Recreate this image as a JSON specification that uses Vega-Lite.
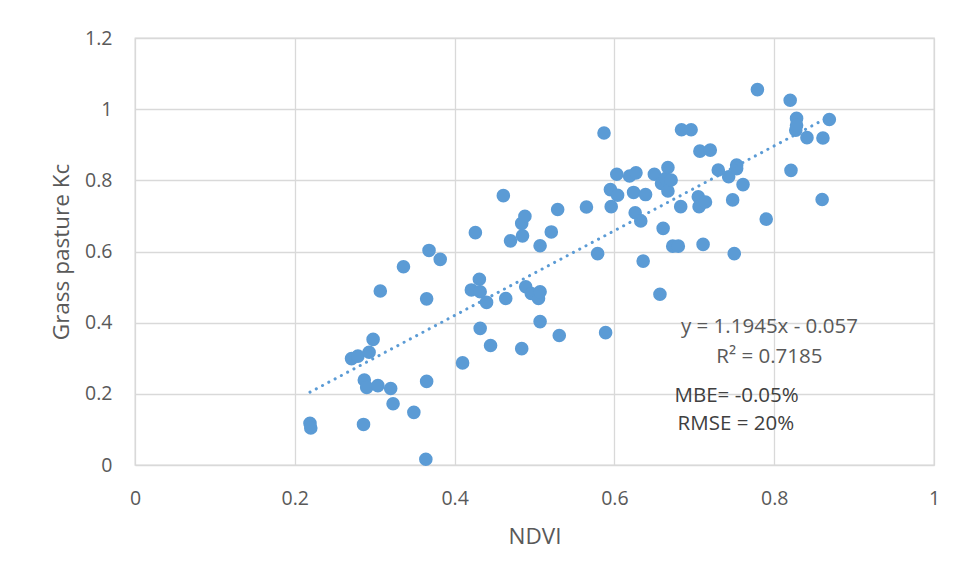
{
  "$schema": "https://vega.github.io/schema/vega-lite/v6.json",
  "width": 799,
  "height": 427,
  "autosize": {"type": "none"},
  "padding": {"left": 135, "top": 38, "right": 22, "bottom": 112},
  "background": "white",
  "config": {
    "font": "Open Sans",
    "view": {"stroke": "#D9D9D9", "strokeWidth": 1.3},
    "axis": {
      "grid": true,
      "gridColor": "#D9D9D9",
      "gridWidth": 1.3,
      "domain": false,
      "ticks": false,
      "labelColor": "#595959",
      "labelFont": "Open Sans",
      "labelFontSize": 19.5,
      "labelFlush": false,
      "titleColor": "#595959",
      "titleFont": "Open Sans",
      "titleFontSize": 22.5,
      "titleFontWeight": "normal"
    }
  },
  "data": {
    "values": [
      {"ndvi": 0.219, "kc": 0.117}, {"ndvi": 0.220, "kc": 0.104}, {"ndvi": 0.286, "kc": 0.114},
      {"ndvi": 0.364, "kc": 0.016}, {"ndvi": 0.349, "kc": 0.148}, {"ndvi": 0.323, "kc": 0.172},
      {"ndvi": 0.287, "kc": 0.239}, {"ndvi": 0.290, "kc": 0.218}, {"ndvi": 0.304, "kc": 0.223},
      {"ndvi": 0.320, "kc": 0.215}, {"ndvi": 0.365, "kc": 0.235}, {"ndvi": 0.271, "kc": 0.299},
      {"ndvi": 0.279, "kc": 0.306}, {"ndvi": 0.293, "kc": 0.317}, {"ndvi": 0.298, "kc": 0.353},
      {"ndvi": 0.307, "kc": 0.489}, {"ndvi": 0.336, "kc": 0.557}, {"ndvi": 0.365, "kc": 0.467},
      {"ndvi": 0.368, "kc": 0.603}, {"ndvi": 0.382, "kc": 0.578}, {"ndvi": 0.410, "kc": 0.287},
      {"ndvi": 0.421, "kc": 0.492}, {"ndvi": 0.431, "kc": 0.522}, {"ndvi": 0.432, "kc": 0.487},
      {"ndvi": 0.432, "kc": 0.384}, {"ndvi": 0.426, "kc": 0.653}, {"ndvi": 0.440, "kc": 0.457},
      {"ndvi": 0.445, "kc": 0.336}, {"ndvi": 0.461, "kc": 0.757}, {"ndvi": 0.464, "kc": 0.468},
      {"ndvi": 0.470, "kc": 0.630}, {"ndvi": 0.484, "kc": 0.327}, {"ndvi": 0.484, "kc": 0.679},
      {"ndvi": 0.485, "kc": 0.644}, {"ndvi": 0.488, "kc": 0.699}, {"ndvi": 0.489, "kc": 0.501},
      {"ndvi": 0.496, "kc": 0.482}, {"ndvi": 0.505, "kc": 0.468}, {"ndvi": 0.507, "kc": 0.487},
      {"ndvi": 0.507, "kc": 0.403}, {"ndvi": 0.507, "kc": 0.616}, {"ndvi": 0.521, "kc": 0.655},
      {"ndvi": 0.529, "kc": 0.718}, {"ndvi": 0.531, "kc": 0.364}, {"ndvi": 0.565, "kc": 0.725},
      {"ndvi": 0.579, "kc": 0.594}, {"ndvi": 0.587, "kc": 0.933}, {"ndvi": 0.589, "kc": 0.372},
      {"ndvi": 0.595, "kc": 0.774}, {"ndvi": 0.596, "kc": 0.726}, {"ndvi": 0.603, "kc": 0.817},
      {"ndvi": 0.604, "kc": 0.758}, {"ndvi": 0.619, "kc": 0.812}, {"ndvi": 0.624, "kc": 0.766},
      {"ndvi": 0.626, "kc": 0.709}, {"ndvi": 0.627, "kc": 0.821}, {"ndvi": 0.633, "kc": 0.686},
      {"ndvi": 0.636, "kc": 0.573}, {"ndvi": 0.639, "kc": 0.760}, {"ndvi": 0.650, "kc": 0.817},
      {"ndvi": 0.657, "kc": 0.480}, {"ndvi": 0.659, "kc": 0.791}, {"ndvi": 0.661, "kc": 0.665},
      {"ndvi": 0.664, "kc": 0.805}, {"ndvi": 0.667, "kc": 0.836}, {"ndvi": 0.667, "kc": 0.770},
      {"ndvi": 0.671, "kc": 0.801}, {"ndvi": 0.673, "kc": 0.615}, {"ndvi": 0.680, "kc": 0.615},
      {"ndvi": 0.683, "kc": 0.726}, {"ndvi": 0.684, "kc": 0.942}, {"ndvi": 0.696, "kc": 0.942},
      {"ndvi": 0.705, "kc": 0.754}, {"ndvi": 0.706, "kc": 0.726}, {"ndvi": 0.707, "kc": 0.882},
      {"ndvi": 0.711, "kc": 0.620}, {"ndvi": 0.714, "kc": 0.739}, {"ndvi": 0.720, "kc": 0.885},
      {"ndvi": 0.730, "kc": 0.829}, {"ndvi": 0.743, "kc": 0.810}, {"ndvi": 0.748, "kc": 0.745},
      {"ndvi": 0.750, "kc": 0.594}, {"ndvi": 0.753, "kc": 0.843}, {"ndvi": 0.753, "kc": 0.833},
      {"ndvi": 0.761, "kc": 0.788}, {"ndvi": 0.779, "kc": 1.055}, {"ndvi": 0.790, "kc": 0.691},
      {"ndvi": 0.820, "kc": 1.025}, {"ndvi": 0.821, "kc": 0.828}, {"ndvi": 0.827, "kc": 0.941},
      {"ndvi": 0.828, "kc": 0.974}, {"ndvi": 0.828, "kc": 0.955}, {"ndvi": 0.841, "kc": 0.920},
      {"ndvi": 0.860, "kc": 0.746}, {"ndvi": 0.861, "kc": 0.919}, {"ndvi": 0.869, "kc": 0.971}
    ]
  },
  "encoding": {
    "x": {
      "field": "ndvi", "type": "quantitative", "title": "NDVI",
      "scale": {"domain": [0, 1], "nice": false, "zero": false},
      "axis": {"values": [0, 0.2, 0.4, 0.6, 0.8, 1], "labelPadding": 24, "titlePadding": 18, "format": "~g"}
    },
    "y": {
      "field": "kc", "type": "quantitative", "title": "Grass pasture Kc",
      "scale": {"domain": [0, 1.2], "nice": false, "zero": false},
      "axis": {"values": [0, 0.2, 0.4, 0.6, 0.8, 1, 1.2], "labelPadding": 23, "titlePadding": 11, "format": "~g"}
    }
  },
  "layer": [
    {
      "mark": {"type": "point", "filled": true, "opacity": 1, "color": "#5B9BD5", "size": 185, "shape": "circle"}
    },
    {
      "transform": [{"regression": "kc", "on": "ndvi"}],
      "mark": {"type": "line", "color": "#5B9BD5", "strokeWidth": 3, "strokeDash": [0.1, 7], "strokeCap": "round"}
    },
    {
      "data": {"values": [{}]},
      "mark": {"type": "rect", "color": "white"},
      "encoding": {
        "x": {"datum": 0.607, "type": "quantitative"},
        "x2": {"datum": 0.9},
        "y": {"datum": 0.006, "type": "quantitative"},
        "y2": {"datum": 0.275}
      }
    },
    {
      "data": {"values": [
        {"label": "y = 1.1945x - 0.057", "lx": 0.794, "ly": 0.388, "grp": "eq"},
        {"label": "R² = 0.7185", "lx": 0.794, "ly": 0.304, "grp": "eq"},
        {"label": "MBE= -0.05%", "lx": 0.753, "ly": 0.195, "grp": "err"},
        {"label": "RMSE = 20%", "lx": 0.752, "ly": 0.114, "grp": "err"}
      ]},
      "mark": {"type": "text", "font": "Open Sans", "fontSize": 20.5, "align": "center", "baseline": "middle"},
      "encoding": {
        "x": {"field": "lx", "type": "quantitative"},
        "y": {"field": "ly", "type": "quantitative"},
        "text": {"field": "label"},
        "color": {"field": "grp", "type": "nominal", "scale": {"domain": ["eq", "err"], "range": ["#595959", "#404040"]}, "legend": null}
      }
    }
  ]
}
